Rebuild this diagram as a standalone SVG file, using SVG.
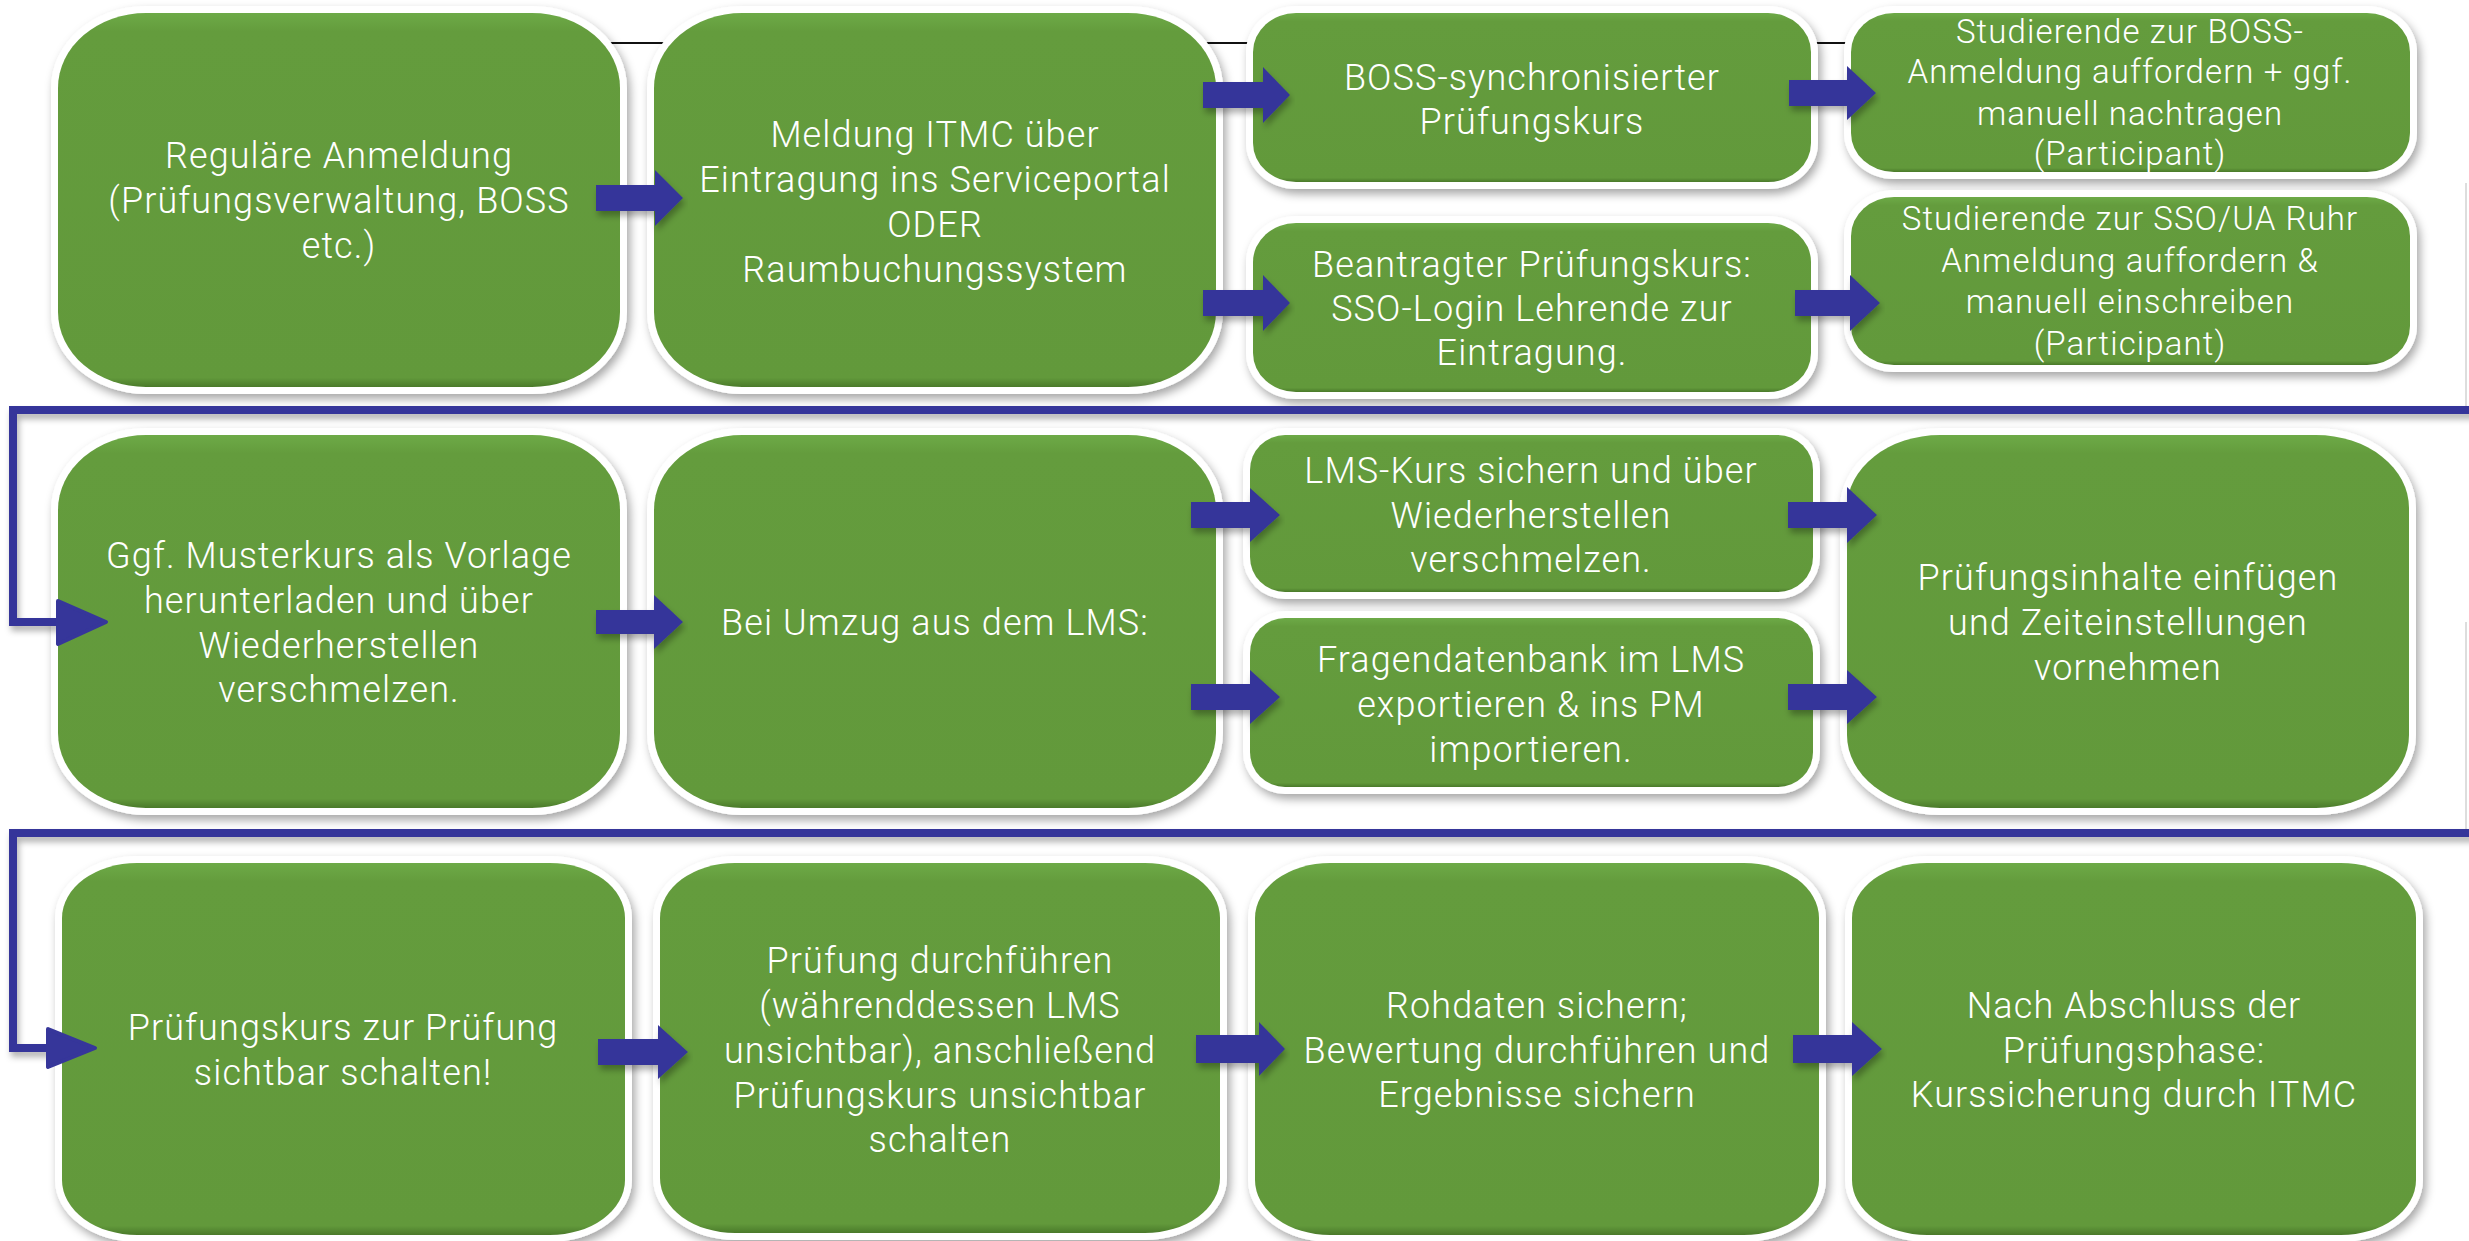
<svg xmlns="http://www.w3.org/2000/svg" width="2469" height="1241" viewBox="0 0 2469 1241">
<defs>
<linearGradient id="gfill" x1="0" y1="0" x2="0" y2="1">
<stop offset="0" stop-color="#6DAA47"/>
<stop offset="0.05" stop-color="#649C3D"/>
<stop offset="0.975" stop-color="#62993B"/>
<stop offset="1" stop-color="#4A7A2A"/>
</linearGradient>
<filter id="sh" x="-10%" y="-10%" width="120%" height="125%">
<feDropShadow dx="3" dy="5" stdDeviation="5" flood-color="#000" flood-opacity="0.35"/>
</filter>
<filter id="lsh" x="-5%" y="-50%" width="110%" height="300%">
<feDropShadow dx="2" dy="5" stdDeviation="3" flood-color="#000" flood-opacity="0.3"/>
</filter>
<style>
.frame{fill:#fff;filter:url(#sh)}
.box{fill:url(#gfill)}
.t{font-family:"Roboto Light",Roboto,"Noto Sans","Liberation Sans",sans-serif;font-weight:300;font-size:36px;letter-spacing:1.1px;fill:#fff;text-anchor:middle}
.s{font-size:33px}
.arr{fill:#36369A;filter:url(#lsh)}
.wrap{fill:none;stroke:#36369A;stroke-width:8;filter:url(#lsh)}
.head{fill:#36369A;stroke:#36369A;stroke-width:4;stroke-linejoin:round}
</style>
</defs>
<rect width="2469" height="1241" fill="#fff"/>
<g id="connectors-back">
<line x1="600" y1="43" x2="1860" y2="43" stroke="#111" stroke-width="2"/>
<line x1="2466" y1="183" x2="2466" y2="410" stroke="#ddd" stroke-width="2"/>
<line x1="2466" y1="622" x2="2466" y2="833" stroke="#ddd" stroke-width="2"/>
</g>
<g id="n-a"><rect class="frame" x="51" y="6" width="576" height="388" rx="95" ry="82"/><rect class="box" x="58" y="13" width="562" height="374" rx="88" ry="75"/>
<text class="t"><tspan x="339" y="168">Reguläre Anmeldung</tspan><tspan x="339" y="213">(Prüfungsverwaltung, BOSS</tspan><tspan x="339" y="258">etc.)</tspan></text></g>
<g id="n-b"><rect class="frame" x="647" y="6" width="576" height="388" rx="95" ry="82"/><rect class="box" x="654" y="13" width="562" height="374" rx="88" ry="75"/>
<text class="t"><tspan x="935" y="147">Meldung ITMC über</tspan><tspan x="935" y="192">Eintragung ins Serviceportal</tspan><tspan x="935" y="237">ODER</tspan><tspan x="935" y="282">Raumbuchungssystem</tspan></text></g>
<g id="n-c"><rect class="frame" x="1246" y="6" width="572" height="183" rx="50" ry="46"/><rect class="box" x="1253" y="13" width="558" height="169" rx="43" ry="39"/>
<text class="t"><tspan x="1532" y="90">BOSS-synchronisierter</tspan><tspan x="1532" y="134">Prüfungskurs</tspan></text></g>
<g id="n-d"><rect class="frame" x="1844" y="6" width="573" height="173" rx="50" ry="46"/><rect class="box" x="1851" y="13" width="559" height="159" rx="43" ry="39"/>
<text class="t s"><tspan x="2130" y="43">Studierende zur BOSS-</tspan><tspan x="2130" y="83">Anmeldung auffordern + ggf.</tspan><tspan x="2130" y="125">manuell nachtragen</tspan><tspan x="2130" y="165">(Participant)</tspan></text></g>
<g id="n-e"><rect class="frame" x="1246" y="216" width="572" height="183" rx="50" ry="46"/><rect class="box" x="1253" y="223" width="558" height="169" rx="43" ry="39"/>
<text class="t"><tspan x="1532" y="277">Beantragter Prüfungskurs:</tspan><tspan x="1532" y="321">SSO-Login Lehrende zur</tspan><tspan x="1532" y="365">Eintragung.</tspan></text></g>
<g id="n-f"><rect class="frame" x="1844" y="190" width="573" height="182" rx="50" ry="46"/><rect class="box" x="1851" y="197" width="559" height="168" rx="43" ry="39"/>
<text class="t s"><tspan x="2130" y="230">Studierende zur SSO/UA Ruhr</tspan><tspan x="2130" y="272">Anmeldung auffordern &amp;</tspan><tspan x="2130" y="313">manuell einschreiben</tspan><tspan x="2130" y="355">(Participant)</tspan></text></g>
<g id="n-g"><rect class="frame" x="51" y="428" width="576" height="387" rx="95" ry="82"/><rect class="box" x="58" y="435" width="562" height="373" rx="88" ry="75"/>
<text class="t"><tspan x="339" y="568">Ggf. Musterkurs als Vorlage</tspan><tspan x="339" y="613">herunterladen und über</tspan><tspan x="339" y="658">Wiederherstellen</tspan><tspan x="339" y="702">verschmelzen.</tspan></text></g>
<g id="n-h"><rect class="frame" x="647" y="428" width="576" height="387" rx="95" ry="82"/><rect class="box" x="654" y="435" width="562" height="373" rx="88" ry="75"/>
<text class="t"><tspan x="935" y="635">Bei Umzug aus dem LMS:</tspan></text></g>
<g id="n-i"><rect class="frame" x="1243" y="428" width="577" height="171" rx="42" ry="42"/><rect class="box" x="1250" y="435" width="563" height="157" rx="35" ry="35"/>
<text class="t"><tspan x="1531" y="483">LMS-Kurs sichern und über</tspan><tspan x="1531" y="528">Wiederherstellen</tspan><tspan x="1531" y="572">verschmelzen.</tspan></text></g>
<g id="n-j"><rect class="frame" x="1243" y="611" width="577" height="183" rx="42" ry="42"/><rect class="box" x="1250" y="618" width="563" height="169" rx="35" ry="35"/>
<text class="t"><tspan x="1531" y="672">Fragendatenbank im LMS</tspan><tspan x="1531" y="717">exportieren &amp; ins PM</tspan><tspan x="1531" y="762">importieren.</tspan></text></g>
<g id="n-k"><rect class="frame" x="1840" y="428" width="576" height="387" rx="100" ry="80"/><rect class="box" x="1847" y="435" width="562" height="373" rx="93" ry="73"/>
<text class="t"><tspan x="2128" y="590">Prüfungsinhalte einfügen</tspan><tspan x="2128" y="635">und Zeiteinstellungen</tspan><tspan x="2128" y="680">vornehmen</tspan></text></g>
<g id="n-l"><rect class="frame" x="55" y="856" width="577" height="386" rx="82" ry="62"/><rect class="box" x="62" y="863" width="563" height="372" rx="75" ry="55"/>
<text class="t"><tspan x="343" y="1040">Prüfungskurs zur Prüfung</tspan><tspan x="343" y="1085">sichtbar schalten!</tspan></text></g>
<g id="n-m"><rect class="frame" x="653" y="856" width="574" height="384" rx="82" ry="62"/><rect class="box" x="660" y="863" width="560" height="370" rx="75" ry="55"/>
<text class="t"><tspan x="940" y="973">Prüfung durchführen</tspan><tspan x="940" y="1018">(währenddessen LMS</tspan><tspan x="940" y="1063">unsichtbar), anschließend</tspan><tspan x="940" y="1108">Prüfungskurs unsichtbar</tspan><tspan x="940" y="1152">schalten</tspan></text></g>
<g id="n-n"><rect class="frame" x="1248" y="856" width="578" height="386" rx="82" ry="62"/><rect class="box" x="1255" y="863" width="564" height="372" rx="75" ry="55"/>
<text class="t"><tspan x="1537" y="1018">Rohdaten sichern;</tspan><tspan x="1537" y="1063">Bewertung durchführen und</tspan><tspan x="1537" y="1107">Ergebnisse sichern</tspan></text></g>
<g id="n-o"><rect class="frame" x="1845" y="856" width="578" height="386" rx="82" ry="62"/><rect class="box" x="1852" y="863" width="564" height="372" rx="75" ry="55"/>
<text class="t"><tspan x="2134" y="1018">Nach Abschluss der</tspan><tspan x="2134" y="1063">Prüfungsphase:</tspan><tspan x="2134" y="1107">Kurssicherung durch ITMC</tspan></text></g>
<g id="connectors">
<path class="arr" d="M596,185 L655,185 L655,170 L683,198 L655,226 L655,211 L596,211 Z"/>
<path class="arr" d="M1203,82 L1263,82 L1263,67 L1290,95 L1263,123 L1263,108 L1203,108 Z"/>
<path class="arr" d="M1203,290 L1263,290 L1263,275 L1290,303 L1263,331 L1263,316 L1203,316 Z"/>
<path class="arr" d="M1789,80 L1847,80 L1847,66 L1876,93 L1847,120 L1847,106 L1789,106 Z"/>
<path class="arr" d="M1795,290 L1850,290 L1850,275 L1880,303 L1850,331 L1850,316 L1795,316 Z"/>
<path class="arr" d="M596,610 L654,610 L654,595 L683,622 L654,649 L654,634 L596,634 Z"/>
<path class="arr" d="M1191,502 L1250,502 L1250,488 L1280,515 L1250,542 L1250,528 L1191,528 Z"/>
<path class="arr" d="M1191,684 L1250,684 L1250,670 L1280,697 L1250,724 L1250,710 L1191,710 Z"/>
<path class="arr" d="M1788,502 L1847,502 L1847,487 L1877,515 L1847,543 L1847,528 L1788,528 Z"/>
<path class="arr" d="M1788,684 L1847,684 L1847,670 L1877,697 L1847,724 L1847,710 L1788,710 Z"/>
<path class="arr" d="M598,1039 L658,1039 L658,1025 L688,1052 L658,1079 L658,1065 L598,1065 Z"/>
<path class="arr" d="M1196,1035 L1259,1035 L1259,1022 L1285,1049 L1259,1076 L1259,1063 L1196,1063 Z"/>
<path class="arr" d="M1793,1035 L1852,1035 L1852,1022 L1882,1049 L1852,1076 L1852,1063 L1793,1063 Z"/>
<path class="wrap" d="M2430,183 L2475,183"/>
<path class="wrap" d="M2475,410 L13,410 L13,622 L60,622"/>
<path class="head" d="M58,601 L106,622 L58,644 Z"/>
<path class="wrap" d="M2426,622 L2475,622"/>
<path class="wrap" d="M2475,833 L13,833 L13,1048 L50,1048"/>
<path class="head" d="M48,1029 L95,1048 L48,1067 Z"/>
</g>
</svg>
